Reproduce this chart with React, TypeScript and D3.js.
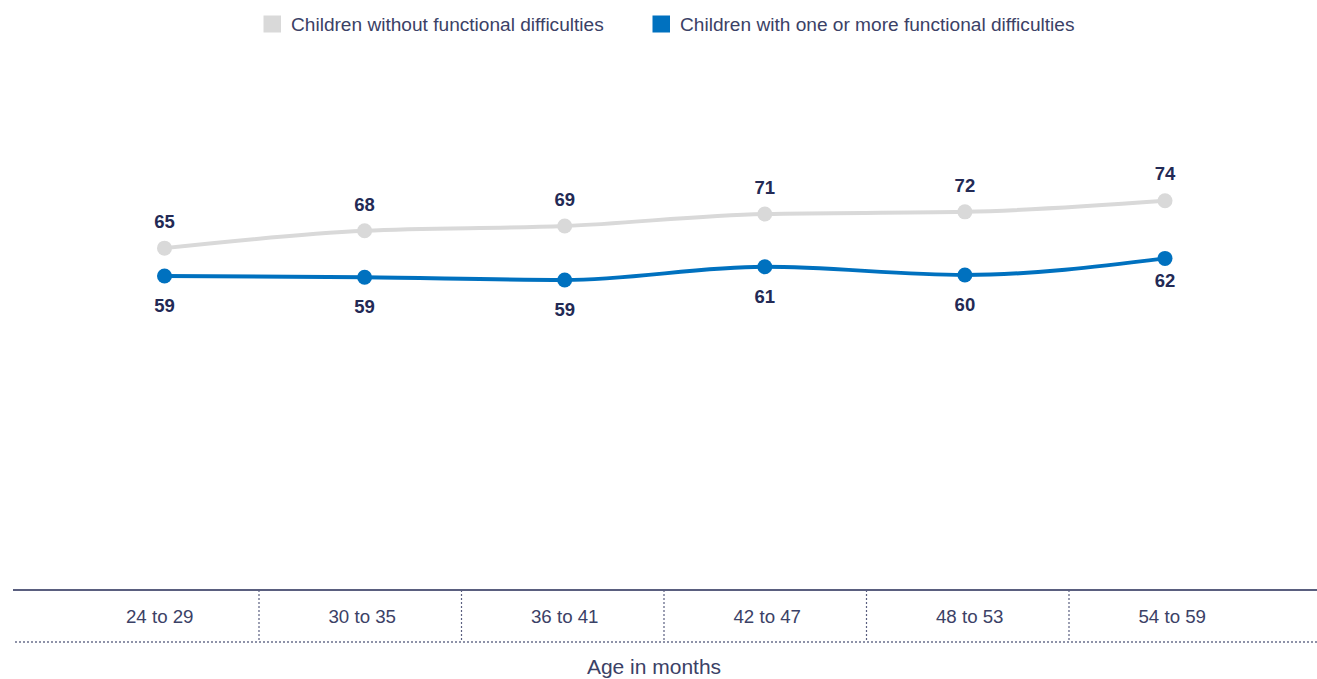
import React from "react";
import * as d3 from "d3";

const categories = ["24 to 29", "30 to 35", "36 to 41", "42 to 47", "48 to 53", "54 to 59"];
const withoutValues = [64.9, 68.2, 69.1, 71.4, 71.8, 73.9];
const withoutLabels = ["65", "68", "69", "71", "72", "74"];
const withValues = [59.6, 59.35, 58.85, 61.35, 59.8, 62.95];
const withLabels = ["59", "59", "59", "61", "60", "62"];
const legendItems = ["Children without functional difficulties", "Children with one or more functional difficulties"];
const axisTitle = "Age in months";

const W = 1317;
const H = 679;
const GRAY = "#d9d9d9";
const BLUE = "#0071bf";
const LABEL = "#232a55";
const TEXT = "#3b4166";
const FONT = "'Liberation Sans', Arial, Helvetica, sans-serif";

export default function App() {
  const x = d3.scalePoint<string>().domain(categories).range([164.5, 1165]);
  const band = d3.scaleBand<string>().domain(categories).range([56.5, 1271.5]);
  const y = d3.scaleLinear().domain([0, 100]).range([589.5, 63.5]);
  const line = d3
    .line<number>()
    .x((_, i) => x(categories[i]) as number)
    .y((d) => y(d))
    .curve(d3.curveMonotoneX);

  const axisY = 590;
  const bottomY = 642;

  const series = [
    { values: withoutValues, labels: withoutLabels, color: GRAY, dy: [-20, -20, -20, -20, -20, -21] },
    { values: withValues, labels: withLabels, color: BLUE, dy: [36, 36, 36, 36, 36, 29] },
  ];

  const legendX = [263.5, 652.5];

  return (
    <svg
      width={W}
      height={H}
      style={{ position: "absolute", left: 0, top: 0, background: "#fff" }}
      fontFamily={FONT}
    >
      {/* legend */}
      {legendItems.map((t, i) => (
        <g key={t}>
          <rect x={legendX[i]} y={15.5} width={17.5} height={17} fill={i === 0 ? GRAY : BLUE} />
          <text x={legendX[i] + 27.5} y={30.8} fontSize={19.1} fill={TEXT}>
            {t}
          </text>
        </g>
      ))}

      {/* series */}
      {series.map((s, si) => (
        <g key={si}>
          <path d={line(s.values) || ""} fill="none" stroke={s.color} strokeWidth={4} />
          {s.values.map((v, i) => (
            <circle key={i} cx={x(categories[i])} cy={y(v)} r={7.5} fill={s.color} />
          ))}
          {s.values.map((v, i) => (
            <text
              key={"l" + i}
              x={x(categories[i])}
              y={y(v) + s.dy[i]}
              textAnchor="middle"
              fontSize={18.5}
              fontWeight="bold"
              fill={LABEL}
            >
              {s.labels[i]}
            </text>
          ))}
        </g>
      ))}

      {/* axis */}
      <line x1={13} x2={W} y1={axisY} y2={axisY} stroke="#232a55" strokeWidth={1.5} />
      <line x1={15} x2={W} y1={bottomY} y2={bottomY} stroke="#6a6f8c" strokeWidth={1.5} strokeDasharray="2,2" />
      {categories.slice(1).map((c) => (
        <line
          key={c}
          x1={band(c)}
          x2={band(c)}
          y1={axisY}
          y2={bottomY}
          stroke="#5a5f80"
          strokeWidth={1.2}
          strokeDasharray="2,2"
        />
      ))}
      {categories.map((c) => (
        <text
          key={c}
          x={(band(c) as number) + band.bandwidth() / 2 + 2}
          y={623}
          textAnchor="middle"
          fontSize={18.7}
          fill={TEXT}
        >
          {c}
        </text>
      ))}
      <text x={654} y={674} textAnchor="middle" fontSize={21} fill={TEXT}>
        {axisTitle}
      </text>
    </svg>
  );
}
